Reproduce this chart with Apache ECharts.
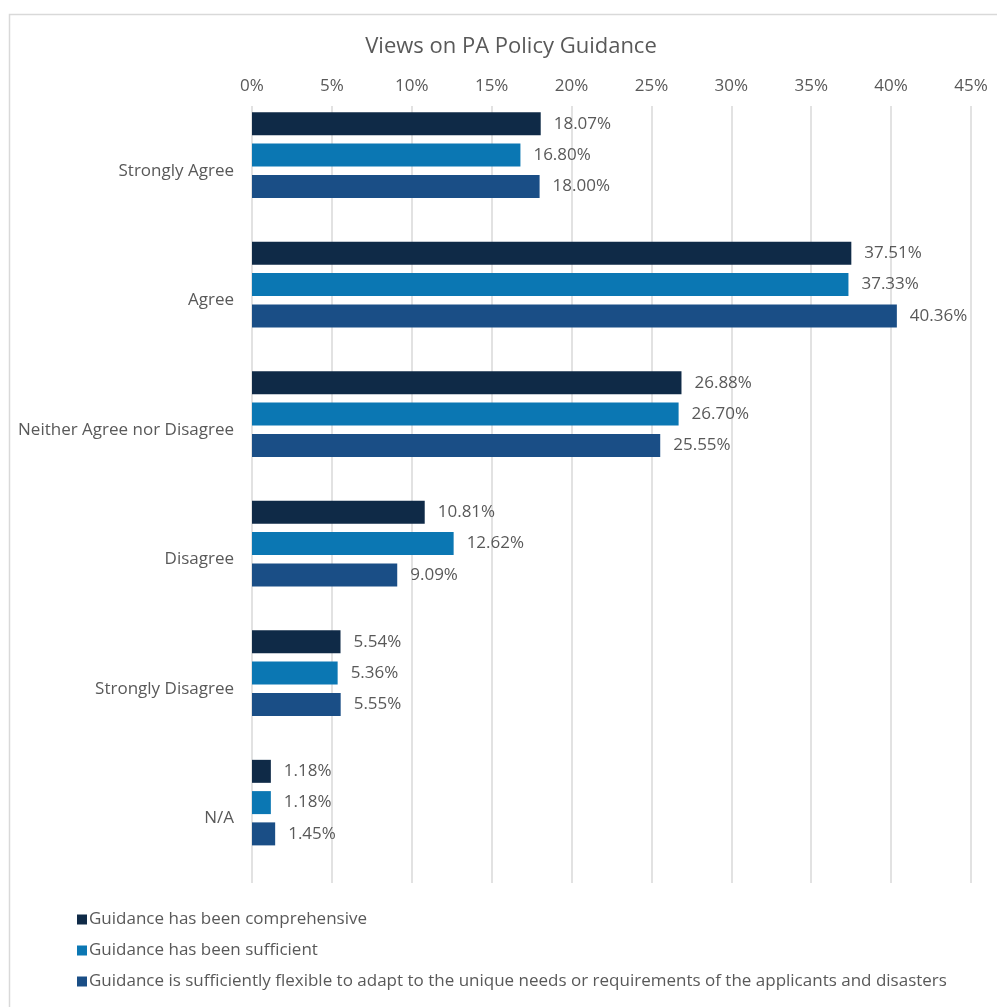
<!DOCTYPE html>
<html>
<head>
<meta charset="utf-8">
<script src="https://cdn.jsdelivr.net/npm/echarts@6/dist/echarts.min.js"></script>
<style>
  html, body { margin: 0; padding: 0; background: #ffffff; }
  #chart { width: 997px; height: 1007px; }
</style>
</head>
<body>
<div id="chart"></div>
<script>
// Survey responses, percent of respondents
const categories = ['Strongly Agree', 'Agree', 'Neither Agree nor Disagree', 'Disagree', 'Strongly Disagree', 'N/A'];
const comprehensive = [18.07, 37.51, 26.88, 10.81, 5.54, 1.18];
const sufficient = [16.80, 37.33, 26.70, 12.62, 5.36, 1.18];
const flexible = [18.00, 40.36, 25.55, 9.09, 5.55, 1.45];
const seriesNames = [
  'Guidance has been comprehensive',
  'Guidance has been sufficient',
  'Guidance is sufficiently flexible to adapt to the unique needs or requirements of the applicants and disasters'
];
const axisTicks = [0, 5, 10, 15, 20, 25, 30, 35, 40, 45];

const FONT = '"Open Sans", Roboto, sans-serif';
const TEXT = '#595959';
const colors = ['#0f2a47', '#0b77b3', '#1a4e86'];

function barSeries(name, data, color) {
  return {
    name: name,
    type: 'bar',
    data: data,
    barWidth: 23,
    barGap: '36%',
    itemStyle: { color: color },
    label: {
      show: true,
      position: 'right',
      distance: 13,
      formatter: p => p.value.toFixed(2) + '%',
      color: TEXT,
      fontFamily: FONT,
      fontSize: 17
    },
    emphasis: { disabled: true }
  };
}

const chart = echarts.init(document.getElementById('chart'), null, { renderer: 'canvas' });
chart.setOption({
  animation: false,
  backgroundColor: '#ffffff',
  color: colors,
  title: {
    text: 'Views on PA Policy Guidance',
    left: 506,
    top: 31,
    textAlign: 'center',
    textStyle: { fontFamily: FONT, fontSize: 22, fontWeight: 'normal', color: TEXT }
  },
  graphic: [{
    type: 'rect',
    shape: { x: 9.5, y: 14.5, width: 1000, height: 1010 },
    style: { fill: 'none', stroke: '#d9d9d9', lineWidth: 1.5 },
    silent: true
  }],
  legend: {
    orient: 'vertical',
    left: 72,
    top: 906,
    itemWidth: 10,
    itemHeight: 10,
    itemGap: 14,
    icon: 'rect',
    data: seriesNames,
    textStyle: { fontFamily: FONT, fontSize: 17, color: TEXT, padding: [0, 0, 0, -3] }
  },
  grid: { left: 252, top: 106, width: 719, height: 777, containLabel: false },
  xAxis: {
    type: 'value',
    position: 'top',
    min: axisTicks[0],
    max: axisTicks[axisTicks.length - 1],
    interval: axisTicks[1] - axisTicks[0],
    axisLine: { show: false },
    axisTick: { show: false },
    axisLabel: {
      formatter: '{value}%',
      color: TEXT,
      fontFamily: FONT,
      fontSize: 17,
      margin: 11
    },
    splitLine: { show: true, lineStyle: { color: '#d9d9d9', width: 1.5 } }
  },
  yAxis: {
    type: 'category',
    inverse: true,
    data: categories,
    axisLine: { show: false },
    axisTick: { show: false },
    axisLabel: { color: TEXT, fontFamily: FONT, fontSize: 17, margin: 18 }
  },
  series: [
    barSeries(seriesNames[0], comprehensive, colors[0]),
    barSeries(seriesNames[1], sufficient, colors[1]),
    barSeries(seriesNames[2], flexible, colors[2]),
    // empty fourth slot keeps the three bars sitting above the category centre
    { name: 'spacer', type: 'bar', data: categories.map(() => null), barWidth: 23, barGap: '36%', silent: true }
  ]
});
</script>
</body>
</html>
